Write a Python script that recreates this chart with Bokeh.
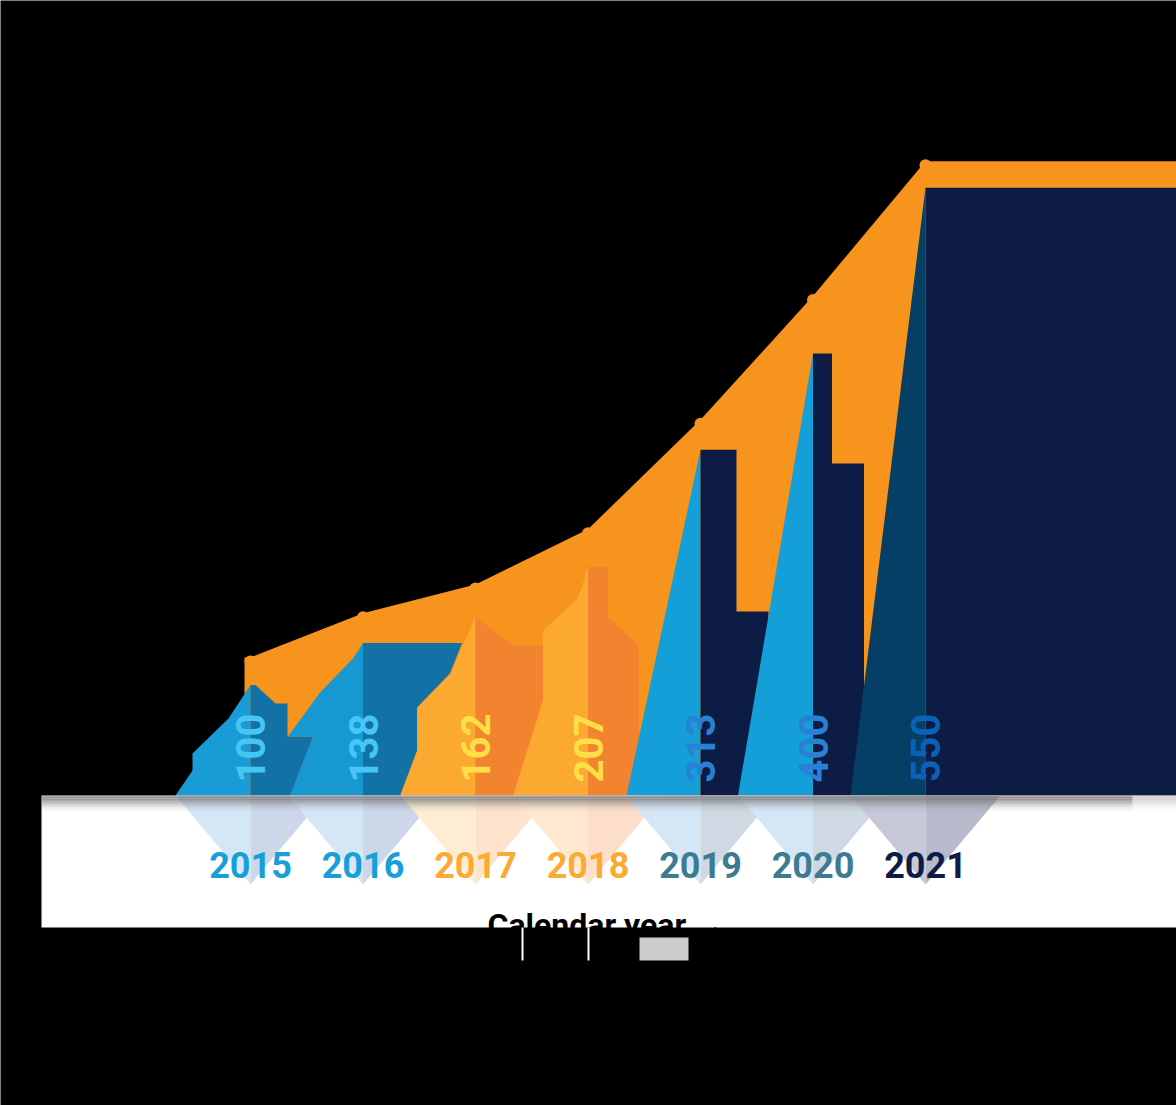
import math
from bokeh.plotting import figure
from bokeh.models import Range1d
from bokeh.core.properties import value
from bokeh.embed import file_html
from bokeh.resources import INLINE

# ---------------- data ----------------
YEARS = [2015, 2016, 2017, 2018, 2019, 2020, 2021]
VALUES = [100, 138, 162, 207, 313, 400, 550]
TREND = [125, 165, 191, 241, 340, 452, 574]
YEAR_LABELS = ["2015", "2016", "2017", "2018", "2019", "2020", "2021"]
VALUE_LABELS = ["100", "138", "162", "207", "313", "400", "550"]
AXIS_TITLE = "Calendar year \u2192"

# ---------------- layout / style ----------------
W, H = 1176, 1105
PX_YEAR = 112.5      # screen px per year
PX_VAL = 1.105       # screen px per value unit
FIRST_PX = 250       # screen x of first year
BASE_PX = 795        # screen y of baseline

X0 = YEARS[0] - FIRST_PX / PX_YEAR
X1 = X0 + W / PX_YEAR
Y1 = BASE_PX / PX_VAL
Y0 = Y1 - H / PX_VAL


def sx(px):
    return X0 + px / PX_YEAR


def sy(py):
    return Y1 - py / PX_VAL


def dxp(px):
    return px / PX_YEAR


def dvp(px):
    return px / PX_VAL


FONT = value("Roboto")
LIGHT = ["#199BD5", "#1898D0", "#FBA931", "#FBA931", "#159FD9", "#159FD9", "#053F66"]
DARK = ["#1272A6", "#1272A6", "#F28430", "#F28430", "#0D1C45", "#0D1C45", "#0D1C45"]
REF_L = ["#D5E6F6", "#D5E6F6", "#FEEDD3", "#FEE8CF", "#D5E6F6", "#D5E6F6", "#C6C8D7"]
REF_R = ["#CCD7E9", "#CCD7E9", "#FDE3CC", "#FDDECA", "#CFD9E3", "#CFD9E3", "#B8B9CB"]
YEAR_COL = ["#179FD8", "#179FD8", "#FBAA33", "#FBAA33", "#3E7B92", "#3E7B92", "#0E1C45"]
VAL_COL = ["#45C6F4", "#45C6F4", "#FFDE48", "#FFDE48", "#2A80D2", "#2A80D2", "#0A62B8"]
ORANGE = "#F7941D"

# shape profiles: (dx in px from year centre, fraction of bar height); "R" = right edge
LIGHT_SHAPE = [
    [(-75, 0), (-58, 0.226), (-58, 0.38), (-22, 0.697), (0, 1), (0, 0)],
    [(-73, 0), (-50, 0.387), (-75, 0.387), (-43, 0.675), (-10, 0.898), (0, 1), (0, 0)],
    [(-75, 0), (-58, 0.251), (-58, 0.492), (-25, 0.682), (0, 1), (0, 0)],
    [(-75, 0), (-45, 0.41), (-45, 0.72), (-11, 0.858), (-7, 0.9), (0, 1), (0, 0)],
    [(-74, 0), (0, 1), (0, 0)],
    [(-75, 0), (0, 1), (0, 0)],
    [(-75, 0), (0, 1), (0, 0)],
]
DARK_SHAPE = [
    [(0, 1), (5, 1), (25, 0.833), (37, 0.833), (37, 0.534), (63, 0.534), (40, 0), (0, 0)],
    [(0, 1), (99, 1), (87, 0.8), (54, 0.577), (54, 0.295), (37, 0), (0, 0)],
    [(0, 1), (37, 0.838), (68, 0.838), (68, 0.559), (38, 0), (0, 0)],
    [(0, 1), (20, 1), (20, 0.78), (51, 0.657), (51, 0), (0, 0)],
    [(0, 1), (36, 1), (36, 0.532), (68, 0.532), (68, 0), (0, 0)],
    [(0, 1), (19, 1), (19, 0.751), (51, 0.751), (51, 0), (0, 0)],
    [(0, 1), ("R", 1), ("R", 0), (0, 0)],
]

p = figure(width=W, height=H, output_backend="svg", toolbar_location=None,
           x_range=Range1d(X0, X1), y_range=Range1d(Y0, Y1),
           x_axis_type=None, y_axis_type=None, min_border=0)
p.background_fill_color = "black"
p.border_fill_color = "black"
p.outline_line_color = None
p.grid.visible = False


def shape_xy(c, v, prof):
    xs, ys = [], []
    for d, f in prof:
        xs.append(X1 if d == "R" else c + dxp(d))
        ys.append(f * v)
    return xs, ys


# orange trend area with small beads at each year
ax = [YEARS[0] - dxp(6), YEARS[0] - dxp(6)] + YEARS + [X1, X1]
ay = [0, TREND[0]] + TREND + [TREND[-1], 0]
p.patch(ax, ay, fill_color=ORANGE, line_color=None)
p.scatter(YEARS, [t - dvp(4) for t in TREND], size=12, marker="circle",
          fill_color=ORANGE, line_color=None)

# bars
for i, (c, v) in enumerate(zip(YEARS, VALUES)):
    lx, ly = shape_xy(c, v, LIGHT_SHAPE[i])
    p.patch(lx, ly, fill_color=LIGHT[i], line_color=None)
    rx, ry = shape_xy(c, v, DARK_SHAPE[i])
    p.patch(rx, ry, fill_color=DARK[i], line_color=None)

# white floor panel
p.quad(left=sx(41), right=X1, top=0, bottom=sy(927), fill_color="white", line_color=None)

# reflections
depth = dvp(89)
half = dxp(75)
for i, c in enumerate(YEARS):
    p.patch([c - half, c, c], [0, 0, -depth], fill_color=REF_L[i], line_color=None)
    p.patch([c, c + half, c], [0, 0, -depth], fill_color=REF_R[i], line_color=None)

# floor shadow
alphas = [0.6, 0.75, 0.72, 0.62, 0.5, 0.38, 0.27, 0.18, 0.11, 0.06, 0.03]
for k, a in enumerate(alphas):
    p.quad(left=sx(41), right=sx(1132), top=-dvp(1.5 * k), bottom=-dvp(1.5 * (k + 1)),
           fill_color="#747476", fill_alpha=a, line_color=None)
    p.quad(left=sx(1132), right=X1, top=-dvp(1.5 * k), bottom=-dvp(1.5 * (k + 1)),
           fill_color="#A0A0A0", fill_alpha=a * 0.6, line_color=None)

# year labels
p.text(x=YEARS, y=[0] * 7, text=YEAR_LABELS, y_offset=69,
       text_align="center", text_baseline="middle",
       text_font=FONT, text_font_style="bold",
       text_font_size="36px", text_color=YEAR_COL)

# value labels (rotated)
p.text(x=YEARS, y=[0] * 7, text=VALUE_LABELS, y_offset=-13, angle=math.pi / 2,
       text_align="left", text_baseline="middle",
       text_font=FONT, text_font_style="bold",
       text_font_size="40px", text_color=VAL_COL)

# axis title (cut off by the panel edge as in the original)
p.text(x=[sx(487)], y=[sy(924)], text=[AXIS_TITLE], text_align="left",
       text_baseline="middle", text_font=FONT,
       text_font_style="bold", text_font_size="32px", text_color="black")

# small artefacts below the panel
p.quad(left=[sx(521), sx(587)], right=[sx(523), sx(589)], top=[sy(927)] * 2,
       bottom=[sy(960)] * 2, fill_color="white", line_color=None)
p.quad(left=sx(639), right=sx(688), top=sy(937), bottom=sy(960),
       fill_color="#CCCCCC", line_color=None)

open("out.html", "w").write(file_html(p, INLINE))
